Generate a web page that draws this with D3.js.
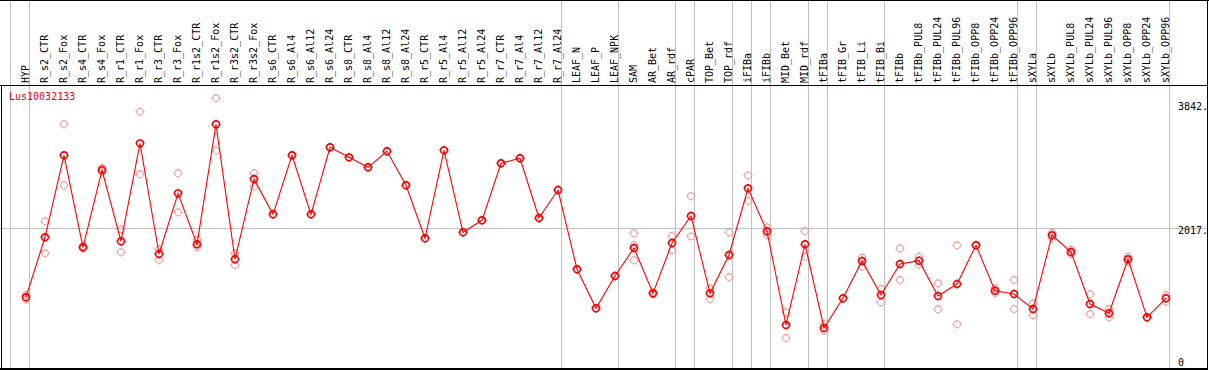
<!DOCTYPE html>
<html>
<head>
<meta charset="utf-8">
<script src="https://cdn.jsdelivr.net/npm/d3@7"></script>
<style>
    html, body { margin: 0; padding: 0; background: #fff; }
    svg { display: block; }
    text { font-family: 'DejaVu Sans Mono', monospace; font-size: 10px; }
</style>
</head>
<body>
<div id="plot"></div>
<script>
const geneName = 'Lus10032133';

const categories = [
    'HYP', 'R_s2_CTR', 'R_s2_Fox', 'R_s4_CTR', 'R_s4_Fox', 'R_r1_CTR', 'R_r1_Fox',
    'R_r3_CTR', 'R_r3_Fox', 'R_r1s2_CTR', 'R_r1s2_Fox', 'R_r3s2_CTR', 'R_r3s2_Fox',
    'R_s6_CTR', 'R_s6_Al4', 'R_s6_Al12', 'R_s6_Al24', 'R_s8_CTR', 'R_s8_Al4',
    'R_s8_Al12', 'R_s8_Al24', 'R_r5_CTR', 'R_r5_Al4', 'R_r5_Al12', 'R_r5_Al24',
    'R_r7_CTR', 'R_r7_Al4', 'R_r7_Al12', 'R_r7_Al24', 'LEAF_N', 'LEAF_P', 'LEAF_NPK',
    'SAM', 'AR_Bet', 'AR_rdf', 'cPAR', 'TOP_Bet', 'TOP_rdf', 'iFIBa', 'iFIBb',
    'MID_Bet', 'MID_rdf', 'tFIBa', 'tFIB_Gr', 'tFIB_Li', 'tFIB_Bi', 'tFIBb',
    'tFIBb_PUL8', 'tFIBb_PUL24', 'tFIBb_PUL96', 'tFIBb_OPP8', 'tFIBb_OPP24', 'tFIBb_OPP96',
    'sXYLa', 'sXYLb', 'sXYLb_PUL8', 'sXYLb_PUL24', 'sXYLb_PUL96', 'sXYLb_OPP8',
    'sXYLb_OPP24', 'sXYLb_OPP96',
];

// mean expression per sample
const means = [
    997, 1880, 3087, 1733, 2870, 1821, 3263, 1634, 2527, 1777, 3543, 1556, 2738,
    2218, 3087, 2218, 3205, 3057, 2910, 3146, 2645, 1865, 3160, 1953, 2130,
    2969, 3043, 2164, 2576, 1409, 835, 1310,
    1722, 1055, 1796, 2193, 1055, 1619, 2601, 1968, 589, 1777, 545, 982, 1531, 1030,
    1487, 1535, 1016, 1192, 1762, 1094, 1045,
    824, 1909, 1663, 898, 761, 1556, 702, 982,
];

// individual replicates
const replicates = [
    [1030, 965], [2115, 1644], [3543, 2645], [1750, 1716], [2900, 2840], [1997, 1659],
    [3729, 2807], [1703, 1546], [2822, 2248], [1840, 1733], [3926, 3155], [1644, 1472],
    [2822, 2625],
    [2218], [3087], [2218], [3205], [3057], [2910], [3146], [2645], [1865], [3160],
    [1953], [2130], [2969], [3043], [2164], [2576], [1409], [835], [1310],
    [1939, 1766, 1541], [1070, 1040], [1899, 1688], [2483, 1894], [1129, 972],
    [1953, 1295], [2792, 2414], [2027, 1918], [776, 397], [1972, 1594], [604, 505],
    [982], [1579, 1447], [1119, 923], [1718, 1251], [1594, 1476], [1203, 820],
    [1762, 599], [1762], [1129, 1060], [1251, 824],
    [908, 732], [1869, 1950], [1697, 1630], [1041, 751], [824, 702], [1594, 1518],
    [702], [1030, 932],
];

// sample index after which a group separator is drawn
const groupEnds = [0, 28, 31, 34, 35, 37, 38, 39, 41, 42, 45, 52, 53, 60];

const yTicks = [0, 2017, 3842];

const width = 1209;
const height = 370;
const headerHeight = 85;
const pointOffset = 14.8;

const svg = d3
    .select('#plot')
    .append('svg')
    .attr('width', width)
    .attr('height', height);

const x = d3
    .scaleBand()
    .domain(categories)
    .range([11.2, 11.2 + 19 * categories.length]);

const cx = (c) => x(c) + pointOffset;

const y = d3.scaleLinear().domain([0, 3842]).range([365, 104]);

// group separators
svg.append('line')
    .attr('x1', x(categories[0]) - 0.5)
    .attr('x2', x(categories[0]) - 0.5)
    .attr('y1', 0)
    .attr('y2', height)
    .style('stroke', '#c0c0c0')
    .style('shape-rendering', 'crispEdges');

svg.selectAll('.sep')
    .data(groupEnds)
    .enter()
    .append('line')
    .attr('class', 'sep')
    .attr('x1', (i) => x(categories[i]) + x.bandwidth() - 0.5)
    .attr('x2', (i) => x(categories[i]) + x.bandwidth() - 0.5)
    .attr('y1', 0)
    .attr('y2', height)
    .style('stroke', '#c0c0c0')
    .style('shape-rendering', 'crispEdges');

// middle grid line
svg.append('line')
    .attr('x1', 1)
    .attr('x2', 1207)
    .attr('y1', Math.round(y(yTicks[1])) + 0.5)
    .attr('y2', Math.round(y(yTicks[1])) + 0.5)
    .style('stroke', '#c0c0c0');

// frame
const frame = svg.append('g').style('stroke', '#000').style('shape-rendering', 'crispEdges');
frame.append('line').attr('x1', 0).attr('x2', width).attr('y1', 0.5).attr('y2', 0.5);
frame.append('line').attr('x1', 0).attr('x2', 1208).attr('y1', headerHeight + 0.5).attr('y2', headerHeight + 0.5);
frame.append('line').attr('x1', 0).attr('x2', 1208).attr('y1', 368.5).attr('y2', 368.5).style('stroke-width', 2);
frame.append('line').attr('x1', 1.5).attr('x2', 1.5).attr('y1', headerHeight).attr('y2', 369);
frame.append('line').attr('x1', 1207.5).attr('x2', 1207.5).attr('y1', 0).attr('y2', 369);

// sample labels
svg.selectAll('.label')
    .data(categories)
    .enter()
    .append('text')
    .attr('class', 'label')
    .attr('transform', (d) => `translate(${cx(d) + 3},83) rotate(-90)`)
    .style('fill', '#000')
    .text((d) => d);

// y labels
svg.selectAll('.ylab')
    .data(yTicks)
    .enter()
    .append('text')
    .attr('class', 'ylab')
    .attr('x', 1178)
    .attr('y', (d) => (d === 0 ? 366 : y(d) + 6))
    .style('fill', '#000')
    .text((d) => (d === 0 ? '0' : d + '.'));

svg.append('text')
    .attr('x', 9)
    .attr('y', 100)
    .style('fill', '#ff0000')
    .text(geneName);

const marker = (g, color, r, sw) => {
    g.append('circle')
        .attr('r', r)
        .style('fill', 'none')
        .style('stroke', color)
        .style('stroke-width', sw);
    [[0, -1], [0, 1], [-1, 0], [1, 0]].forEach(([dx, dy]) => {
        g.append('line')
            .attr('x1', dx * r)
            .attr('y1', dy * r)
            .attr('x2', dx * (r + 1.2))
            .attr('y2', dy * (r + 1.2))
            .style('stroke', color)
            .style('stroke-width', 1);
    });
};

// replicate points
const reps = [];
replicates.forEach((vals, i) => vals.forEach((v) => reps.push({ c: categories[i], v })));

svg.selectAll('.rep')
    .data(reps)
    .enter()
    .append('g')
    .attr('class', 'rep')
    .attr('transform', (d) => `translate(${cx(d.c)},${y(d.v)})`)
    .each(function () {
        marker(d3.select(this), '#f09a9a', 3.4, 1.1);
    });

// mean line
svg.append('path')
    .datum(means)
    .attr('d', d3.line().x((d, i) => cx(categories[i])).y((d) => y(d)))
    .style('fill', 'none')
    .style('stroke', '#ff0000')
    .style('stroke-width', 1.1);

svg.selectAll('.mean')
    .data(means)
    .enter()
    .append('g')
    .attr('class', 'mean')
    .attr('transform', (d, i) => `translate(${cx(categories[i])},${y(d)})`)
    .each(function () {
        marker(d3.select(this), '#ff0000', 3.4, 1.6);
    });
</script>
</body>
</html>
